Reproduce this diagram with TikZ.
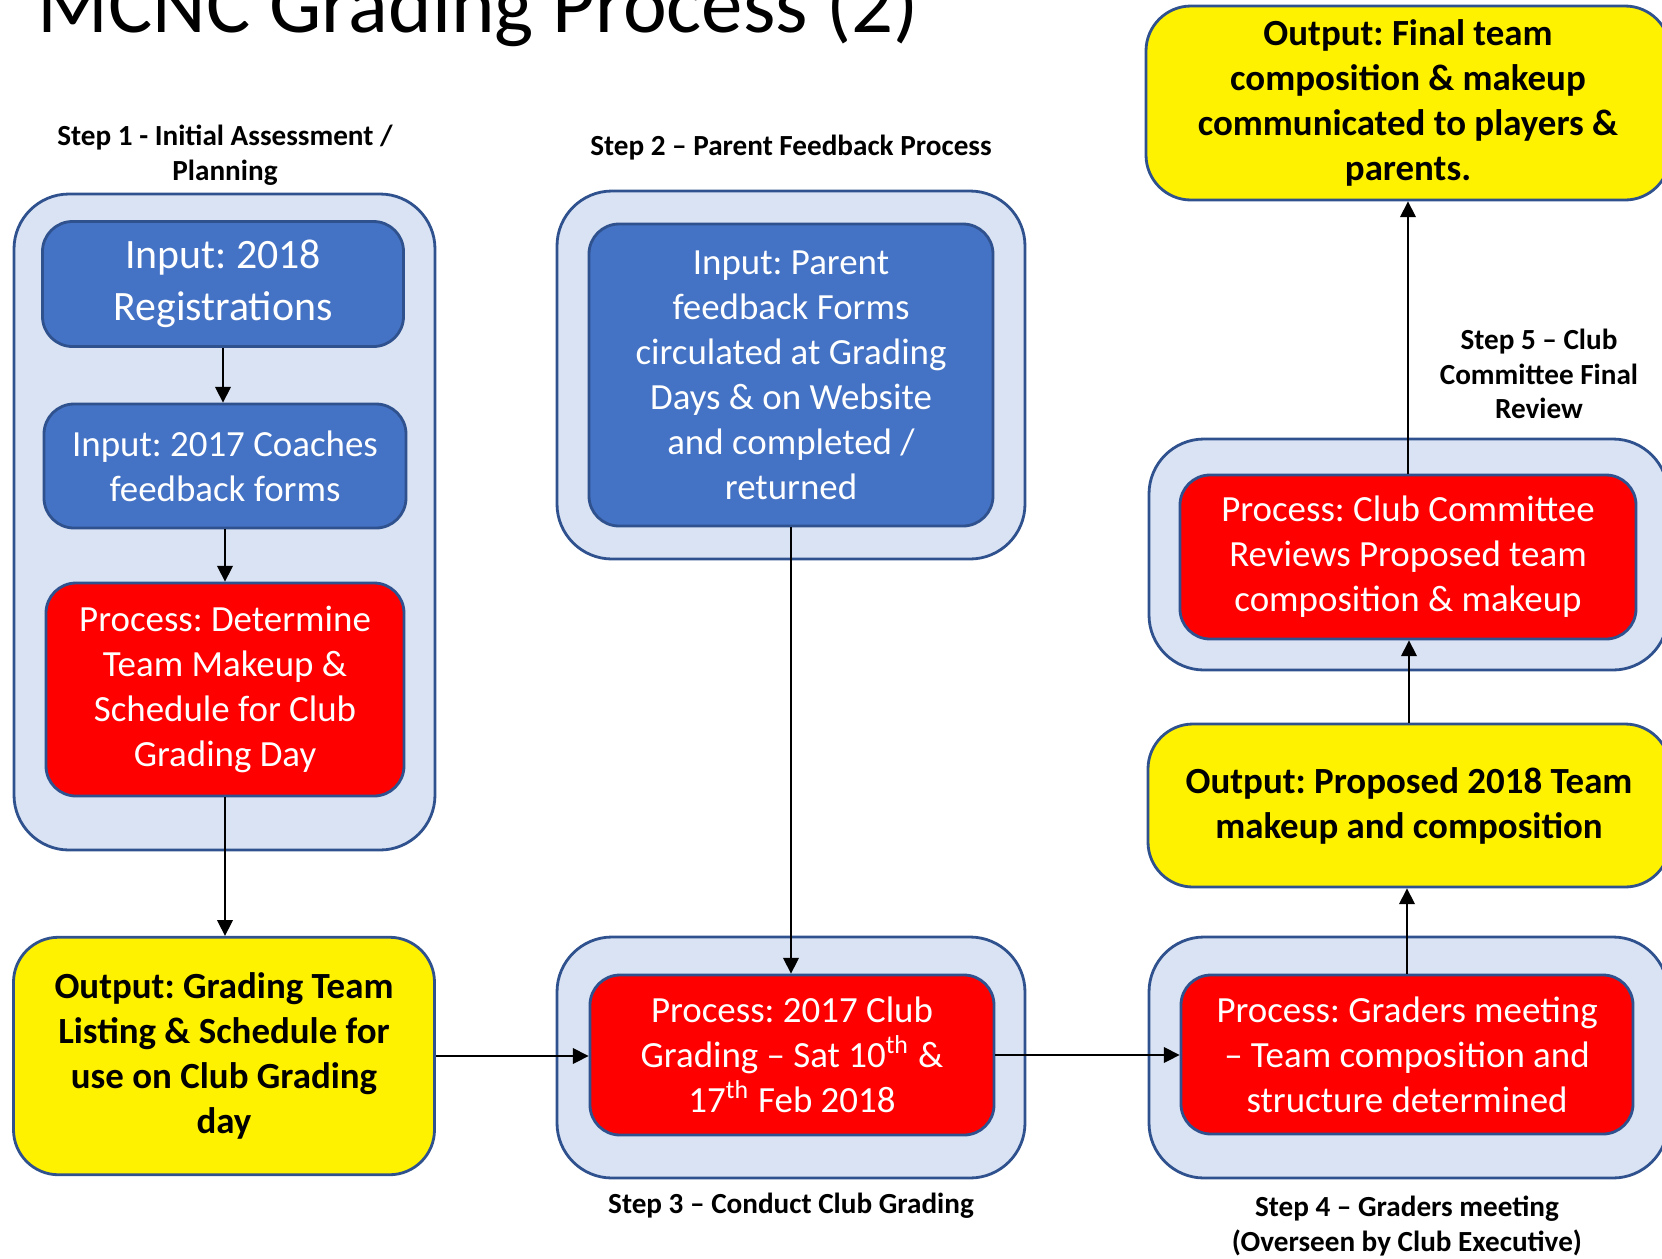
\documentclass[tikz,border=0pt]{standalone}
\usepackage{fontspec}
\setmainfont{Carlito}
\frenchspacing
\usetikzlibrary{arrows.meta}
\definecolor{panelfill}{HTML}{DAE3F3}
\definecolor{panelline}{HTML}{2F528F}
\definecolor{inputfill}{HTML}{4472C4}
\begin{document}
\begin{tikzpicture}[>={Triangle[width=4.5pt,length=4.5pt]},line join=round,
	panel/.style={draw=panelline,line width=0.8pt,fill=panelfill,rounded corners=0.55cm},
	box/.style={draw=panelline,line width=0.8pt,rounded corners=0.3cm,align=center,inner sep=0pt,font=\fontsize{10.5}{12.8}\selectfont},
	inbox/.style={box,fill=inputfill,text=white},
	procbox/.style={box,fill=red,text=white},
	outbox/.style={box,fill=yellow,rounded corners=0.45cm,font=\fontsize{10.5}{12.8}\selectfont\bfseries},
	steplabel/.style={align=center,font=\fontsize{8.3}{9.8}\selectfont\bfseries}]
	\useasboundingbox (0,0) rectangle (16.62,-12.58);
	\node[anchor=base west,inner sep=0pt,font=\fontsize{23.6}{28}\selectfont] (title) at (0.37,-0.32) {MCNC Grading Process (2)};
	% step panels
	\draw[panel] (0.14,-1.94) rectangle (4.35,-8.50);
	\draw[panel] (5.57,-1.91) rectangle (10.25,-5.59);
	\draw[panel] (5.57,-9.37) rectangle (10.25,-11.78);
	\draw[panel] (11.49,-9.37) rectangle (16.68,-11.78);
	\draw[panel] (11.49,-4.39) rectangle (16.68,-6.70);
	% step 1
	\node[inbox,minimum width=3.61cm,minimum height=1.25cm,font=\fontsize{11.9}{14.8}\selectfont] (in1) at (2.23,-2.84) {Input: 2018\\Registrations};
	\node[inbox,minimum width=3.62cm,minimum height=1.24cm] (in2) at (2.25,-4.66) {Input: 2017 Coaches\\feedback forms};
	\node[procbox,minimum width=3.58cm,minimum height=2.13cm] (proc1) at (2.25,-6.895) {Process: Determine\\Team Makeup \&\\Schedule for Club\\Grading Day};
	\node[outbox,minimum width=4.21cm,minimum height=2.375cm] (out1) at (2.24,-10.56) {Output: Grading Team\\Listing \& Schedule for\\use on Club Grading\\day};
	% step 2 and 3
	\node[inbox,minimum width=4.04cm,minimum height=3.02cm] (in3) at (7.91,-3.75) {Input: Parent\\feedback Forms\\circulated at Grading\\Days \& on Website\\and completed /\\returned};
	\node[procbox,minimum width=4.04cm,minimum height=1.60cm] (proc2) at (7.92,-10.55) {Process: 2017 Club\\Grading -- Sat 10\textsuperscript{th} \&\\17\textsuperscript{th} Feb 2018};
	% step 4 and 5
	\node[procbox,minimum width=4.52cm,minimum height=1.59cm] (proc3) at (14.07,-10.545) {Process: Graders meeting\\-- Team composition and\\structure determined};
	\node[outbox,minimum width=5.22cm,minimum height=1.63cm] (out2) at (14.09,-8.055) {Output: Proposed 2018 Team\\makeup and composition};
	\node[procbox,minimum width=4.56cm,minimum height=1.64cm] (proc4) at (14.08,-5.57) {Process: Club Committee\\Reviews Proposed team\\composition \& makeup};
	\node[outbox,minimum width=5.24cm,minimum height=1.94cm] (out3) at (14.08,-1.03) {Output: Final team\\composition \& makeup\\communicated to players \&\\parents.};
	% labels
	\node[steplabel] (lab1) at (2.25,-1.55) {Step 1 - Initial Assessment /\\Planning};
	\node[steplabel] (lab2) at (7.91,-1.48) {Step 2 -- Parent Feedback Process};
	\node[steplabel] (lab3) at (7.91,-12.06) {Step 3 -- Conduct Club Grading};
	\node[steplabel] (lab4) at (14.07,-12.26) {Step 4 -- Graders meeting\\(Overseen by Club Executive)};
	\node[steplabel] (lab5) at (15.39,-3.74) {Step 5 -- Club\\Committee Final\\Review};
	% connectors
	\draw[->] (in1.south) -- (in1.south |- in2.north);
	\draw[->] (in2.south) -- (in2.south |- proc1.north);
	\draw[->] (proc1.south) -- (proc1.south |- out1.north);
	\draw[->] (in3.south) -- (in3.south |- proc2.north);
	\draw[->] (out1.east) -- (out1.east -| proc2.west);
	\draw[->] (proc2.east) -- (proc2.east -| proc3.west);
	\draw[->] (proc3.north) -- (proc3.north |- out2.south);
	\draw[->] (out2.north) -- (out2.north |- proc4.south);
	\draw[->] (proc4.north) -- (proc4.north |- out3.south);
\end{tikzpicture}
\end{document}
